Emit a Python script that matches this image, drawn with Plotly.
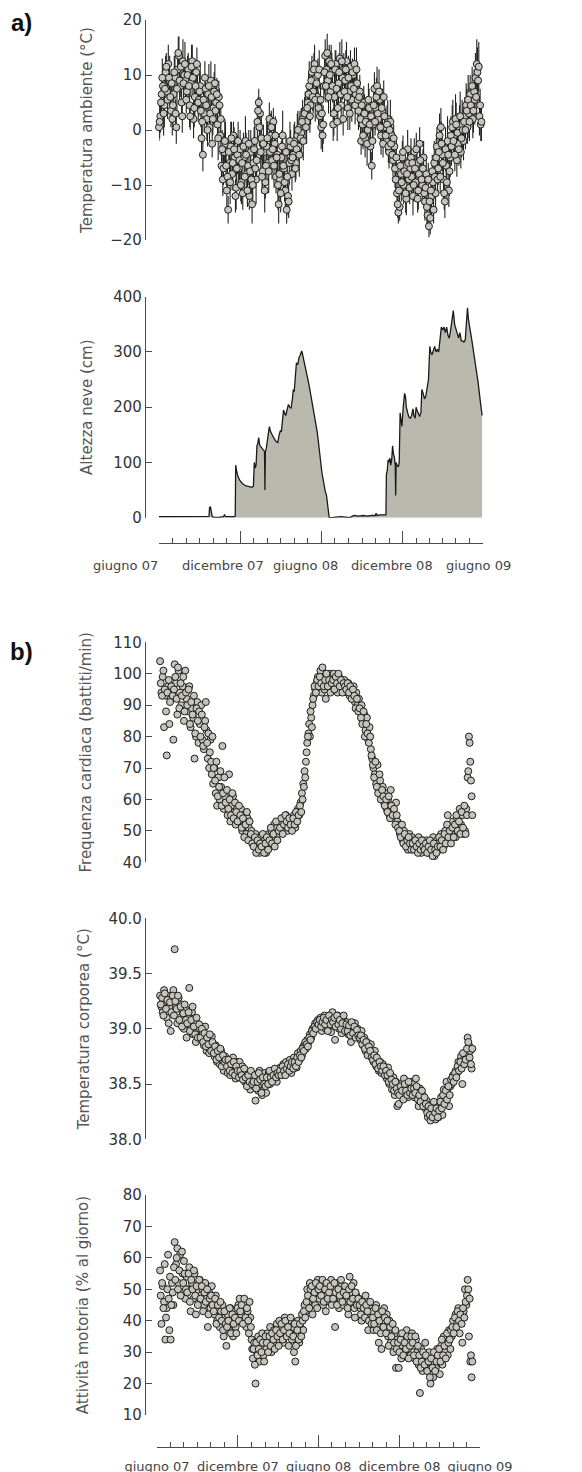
import numpy as np
import pandas as pd
import plotly.graph_objects as go

START = "2007-06-01"
END = "2009-06-01"

# ---------------- data ----------------
# a) air temperature (°C) with its daily spread; one reading every 3 days from 1 June 2007 ...
temp_c = [
    0.5, 2.5, 6.5, 8.0, 4.5, 10.5, 7.0, 12.0, 9.0, 3.5,
    2.0, 6.5, 9.5, 0.5, 11.0, 13.5, 8.0, 5.0, 12.5, 10.0,
    9.0, 7.0, 11.0, 4.5, 8.5, 12.5, 2.0, 6.0, 10.5, 7.5,
    5.5, 8.0, -1.5, -4.5, 3.0, 7.5, 2.0, 6.5, 0.5, 9.0,
    -2.5, 4.0, 8.5, 5.0, 1.0, 6.0, -1.0, -6.5, -9.0, -4.0,
    -2.5, -11.0, -14.5, -6.0, -3.0, -8.0, -1.0, -5.0, -10.5, -4.5,
    -7.0, -3.5, -9.5, -11.5, -5.0, -2.0, -8.0, -6.5, -12.0, -4.0,
    -13.5, -6.0, -2.0, -9.0, 1.5, 5.0, 3.0, -1.5, -7.5, -4.0,
    -9.5, -3.0, -6.0, 2.0, -1.0, -5.5, 1.5, -2.5, -8.5, -4.5,
    -13.5, -9.0, -5.0, -1.0, -7.0, -11.0, -14.5, -12.0, -6.0, -3.0,
    -8.0, -4.5, -2.0, -6.0, -1.0, -3.0, 0.5, -0.5, 2.0, 1.0,
    3.5, 1.5, 5.0, 8.0, 4.5, 10.5, 7.0, 12.0, 9.5, 6.0,
    4.0, 2.5, 0.5, -1.0, 8.0, 13.5, 11.0, 9.0, 12.5, 7.0,
    10.5, 1.0, 6.0, 12.0, 1.5, 8.5, 13.0, 4.5, 9.5, 11.0,
    9.0, 12.5, 4.0, 7.0, 11.5, 5.5, 10.0, 12.0, 6.5, 8.5,
    3.5, 7.0, -2.0, 1.0, 5.0, -1.5, 2.5, 0.0, 4.0, -3.0,
    -6.5, 1.0, 7.5, 4.0, 8.0, 2.0, 5.5, -1.0, 3.5, 6.0,
    0.5, -2.0, 2.0, -4.0, 1.5, -1.0, -5.5, -3.0, -9.0, -11.5,
    -15.0, -14.0, -8.0, -5.0, -10.0, -6.5, -12.5, -3.5, -9.0, -7.0,
    -8.5, -12.0, -4.0, -9.5, -6.0, -11.0, -2.5, -7.5, -10.0, -5.0,
    -13.0, -8.0, -15.5, -17.5, -16.0, -12.0, -9.5, -6.0, -11.5, -3.0,
    -7.0, -1.0, 0.5, -4.5, -9.0, -13.0, -6.5, -2.0, -11.0, -5.0,
    -3.0, 1.5, -1.0, 2.0, -5.5, -2.5, 0.5, -4.0, 1.0, -2.0,
    2.5, 4.5, 0.5, 3.0, 6.5, 5.0, 2.0, 7.0, 9.5, 12.0,
    9.0, 2.5, 1.0,
]
temp_err = [
    2.5, 3.0, 3.5, 2.0, 4.0, 3.0, 2.5, 3.5, 4.5, 3.0,
    3.0, 2.5, 4.0, 3.0, 3.5, 3.5, 2.0, 3.0, 4.0, 2.5,
    3.5, 2.5, 3.0, 4.0, 2.5, 3.0, 3.5, 4.5, 2.0, 3.0,
    3.0, 4.0, 2.5, 3.0, 3.5, 2.5, 4.0, 3.0, 2.5, 3.5,
    2.5, 3.0, 3.5, 4.0, 2.5, 3.0, 3.5, 2.0, 3.0, 3.5,
    4.0, 3.0, 2.5, 3.5, 4.5, 3.0, 2.5, 3.0, 4.0, 3.5,
    3.0, 3.5, 4.0, 3.0, 2.5, 4.5, 3.0, 3.5, 2.5, 4.0,
    3.5, 4.0, 3.0, 4.5, 3.5, 2.5, 3.0, 4.0, 3.5, 3.0,
    3.0, 4.5, 3.5, 3.0, 4.0, 3.5, 2.5, 4.0, 3.0, 3.5,
    3.5, 4.0, 3.0, 4.5, 3.5, 3.0, 2.5, 3.5, 4.0, 3.0,
    3.0, 2.5, 3.5, 3.0, 4.0, 2.5, 3.0, 4.5, 3.5, 3.0,
    3.5, 4.0, 3.0, 4.5, 3.5, 3.0, 4.0, 3.5, 2.5, 3.0,
    3.0, 3.5, 4.0, 3.0, 2.5, 3.0, 3.5, 4.0, 3.0, 4.5,
    3.5, 3.0, 4.5, 2.5, 3.5, 4.0, 3.0, 3.5, 4.0, 3.0,
    3.0, 3.5, 4.0, 3.5, 3.0, 4.0, 2.5, 3.0, 3.5, 3.0,
    3.5, 3.0, 2.5, 4.0, 3.0, 3.5, 3.0, 2.5, 3.5, 4.0,
    2.5, 3.5, 3.0, 4.0, 3.5, 3.0, 2.5, 3.5, 4.0, 3.0,
    3.0, 2.5, 3.5, 3.0, 4.0, 3.5, 3.0, 2.5, 3.0, 3.5,
    2.0, 2.5, 3.5, 3.0, 3.5, 2.5, 3.0, 3.5, 2.5, 3.0,
    3.0, 3.5, 2.5, 3.0, 4.0, 3.5, 3.0, 2.5, 3.5, 3.0,
    3.5, 3.0, 2.5, 2.0, 3.0, 3.5, 3.0, 4.0, 3.0, 3.5,
    3.0, 4.0, 3.5, 3.0, 4.5, 3.0, 3.5, 4.5, 3.0, 3.5,
    3.5, 4.0, 3.0, 4.5, 3.0, 3.5, 4.0, 3.0, 4.5, 3.5,
    3.5, 4.0, 3.0, 4.5, 3.5, 3.0, 3.5, 4.0, 4.5, 4.5,
    3.0, 3.5, 3.0,
]
# ... and the readings in between (every 3 days from 2-3 June 2007)
temp_c_mid = [
    1.5, 5.0, 9.5, 3.0, 7.5, 11.5, 5.5, 9.5, 6.0, 8.5,
    4.5, 10.5, 3.0, 7.5, 14.0, 9.0, 11.5, 2.5, 8.5, 12.0,
    5.5, 10.0, 8.0, 2.5, 11.5, 9.5, 4.0, 8.0, 12.0, 5.0,
    7.0, 3.5, 1.5, 5.5, 9.5, 4.5, 0.0, 8.0, 3.0, 6.0,
    2.0, 7.0, 3.5, 6.5, -1.5, 4.5, 2.0, -3.5, -7.0, -2.0,
    -6.5, -8.5, -4.0, -9.5, -1.5, -6.0, -3.5, -12.0, -7.0, -2.0,
    -5.5, -10.0, -6.0, -3.0, -8.5, -4.5, -11.0, -2.5, -7.5, -9.0,
    -10.0, -3.5, -7.0, -5.5, 3.5, 0.5, -4.0, -8.5, -2.5, -11.0,
    -6.5, -1.5, -7.5, -4.0, 0.5, -3.5, -6.5, -1.0, -5.0, -10.0,
    -8.0, -11.5, -3.0, -6.5, -9.5, -4.0, -8.5, -13.0, -2.0, -5.5,
    -5.0, -2.5, -7.0, -3.5, 0.0, -4.5, -1.5, 1.5, -2.0, 3.0,
    0.5, 4.0, 6.5, 2.5, 9.0, 6.0, 11.0, 5.5, 8.5, 10.0,
    11.0, 5.5, 3.0, 1.0, 10.5, 8.0, 14.0, 6.0, 10.0, 12.0,
    8.0, 3.0, 11.0, 7.5, 4.0, 10.5, 6.5, 12.5, 2.0, 7.0,
    11.0, 6.0, 9.5, 3.0, 8.0, 10.5, 7.5, 4.5, 11.0, 5.5,
    6.0, 2.0, 4.5, -1.0, 3.0, 1.5, -2.5, 5.5, 1.0, 2.5,
    -2.0, 4.5, 1.5, 6.0, 3.0, 7.0, 0.5, 4.0, -2.5, 2.5,
    -1.0, 1.0, -3.0, 0.0, -2.5, -4.5, -1.5, -7.0, -5.0, -13.5,
    -11.0, -6.5, -9.5, -4.0, -7.5, -11.5, -8.0, -6.0, -10.5, -5.0,
    -6.0, -10.0, -7.0, -3.5, -12.5, -8.0, -5.5, -9.0, -7.0, -11.5,
    -10.5, -14.0, -9.0, -13.0, -11.0, -7.5, -14.5, -8.5, -5.0, -9.0,
    -4.0, -8.5, -2.5, -6.0, -11.5, -3.5, -9.5, -4.5, -7.5, -1.0,
    0.5, -2.0, -4.5, 1.0, -0.5, -3.5, 2.5, -1.5, 0.0, 1.5,
    0.0, 3.5, 5.5, 1.5, 4.5, 8.0, 3.5, 5.5, 6.0, 10.5,
    11.5, 4.5, 1.5,
]
temp_err_mid = [
    3.0, 2.5, 3.5, 4.0, 3.0, 2.5, 3.5, 3.0, 4.0, 2.5,
    3.5, 3.0, 2.5, 4.0, 3.0, 3.5, 2.5, 3.0, 3.5, 4.0,
    2.5, 3.5, 3.0, 2.5, 4.0, 3.0, 3.5, 2.5, 3.0, 3.5,
    3.5, 3.0, 4.0, 2.5, 3.0, 3.5, 3.0, 4.0, 2.5, 3.0,
    3.0, 3.5, 2.5, 3.0, 4.0, 3.0, 2.5, 3.5, 3.0, 4.0,
    3.5, 2.5, 3.0, 4.0, 3.0, 3.5, 4.0, 3.0, 2.5, 3.5,
    4.0, 3.0, 3.5, 2.5, 3.5, 4.0, 3.0, 2.5, 3.5, 3.0,
    3.0, 4.0, 3.5, 3.0, 2.5, 3.5, 4.0, 3.0, 3.5, 4.0,
    3.5, 3.0, 4.0, 3.5, 3.0, 2.5, 4.0, 3.5, 3.0, 4.5,
    4.0, 3.5, 3.0, 4.0, 3.5, 3.0, 4.5, 3.0, 3.5, 3.0,
    3.0, 3.5, 2.5, 3.0, 3.5, 4.0, 3.0, 2.5, 3.5, 3.0,
    3.0, 3.5, 4.0, 3.0, 3.5, 2.5, 3.0, 4.0, 3.5, 3.0,
    3.5, 3.0, 2.5, 3.5, 4.0, 3.0, 3.5, 3.0, 4.0, 3.5,
    3.0, 4.0, 3.5, 3.0, 2.5, 3.5, 3.0, 4.0, 3.0, 3.5,
    3.5, 3.0, 4.0, 3.0, 3.5, 2.5, 3.0, 3.5, 4.0, 3.0,
    3.0, 3.5, 3.0, 2.5, 3.5, 3.0, 4.0, 3.0, 3.5, 2.5,
    3.5, 3.0, 2.5, 3.5, 3.0, 4.0, 3.0, 3.5, 2.5, 3.0,
    3.0, 3.5, 3.0, 2.5, 3.5, 3.0, 2.5, 3.5, 3.0, 2.5,
    3.0, 2.5, 3.5, 3.0, 2.5, 3.5, 3.0, 2.5, 3.0, 3.5,
    2.5, 3.0, 3.5, 3.0, 2.5, 3.0, 3.5, 3.0, 3.5, 2.5,
    3.0, 3.5, 3.0, 2.5, 3.5, 3.0, 2.5, 3.0, 3.5, 3.0,
    3.5, 3.0, 4.0, 3.5, 3.0, 4.0, 3.5, 3.0, 4.5, 3.5,
    4.0, 3.5, 3.0, 4.0, 3.5, 3.0, 4.5, 3.5, 4.0, 3.0,
    3.5, 4.0, 4.5, 3.5, 4.0, 3.5, 4.0, 4.5, 4.0, 4.5,
    4.5, 3.0, 3.5,
]

# a) snow depth: day since 1 June 2007 and depth (cm)
snow_day = [
    0, 20, 45, 70, 90, 110, 113, 114, 116, 118, 120, 125, 135, 145, 148, 150, 160, 170, 172,
    173, 175, 178, 182, 188, 195, 202, 210, 213, 215, 217, 219, 221, 223, 225, 227, 230, 233,
    236, 238, 239, 240, 242, 246, 249, 252, 256, 260, 264, 268, 271, 274, 276, 279, 281, 283,
    286, 289, 292, 295, 298, 301, 303, 305, 308, 310, 313, 316, 319, 322, 324, 327, 330, 333,
    336, 339, 342, 345, 348, 351, 354, 357, 360, 363, 365, 367, 369, 372, 375, 378, 381, 384,
    390, 400, 410, 420, 430, 440, 450, 460, 470, 480, 488, 490, 492, 500, 510, 512,
    513, 515, 517, 519, 521, 523, 525, 527, 529, 531, 533, 534, 535, 537, 540, 542, 544, 546,
    548, 551, 554, 556, 558, 561, 564, 567, 570, 573, 575, 578, 580, 582, 585, 588, 591, 593,
    596, 599, 602, 605, 608, 611, 613, 616, 619, 622, 625, 628, 631, 634, 637, 640, 643, 646,
    649, 652, 655, 658, 661, 664, 667, 670, 673, 676, 679, 682, 685, 688, 691, 694, 696, 698,
    700, 703, 706, 710, 715, 720, 725, 729,
]
snow_cm = [
    2, 2, 1.5, 2, 2.5, 2.5, 3, 18, 20, 10, 2, 0.5, 0.5, 2, 5, 2, 1.5, 2, 3,
    95, 85, 75, 68, 62, 58, 56, 55, 57, 100, 90, 95, 130, 135, 145, 132, 128, 125,
    122, 120, 50, 120, 125, 150, 165, 155, 148, 143, 138, 136, 150, 158, 155, 185, 195, 190,
    185, 195, 205, 200, 198, 215, 232, 228, 260, 280, 277, 290, 295, 302, 295, 285, 275, 262,
    250, 238, 225, 210, 195, 188, 170, 155, 135, 110, 100, 85, 75, 60, 48, 40, 20, 0,
    0, 1, 2, 1, 0, 4, 3, 4, 3, 4, 4, 8, 4, 5, 5, 5,
    78, 85, 105, 100, 108, 95, 105, 130, 115, 110, 95, 40, 100, 95, 92, 100, 190, 180,
    165, 200, 225, 220, 200, 190, 182, 180, 185, 197, 185, 180, 200, 195, 188, 183, 190, 232,
    225, 215, 220, 240, 250, 310, 300, 295, 305, 310, 300, 305, 300, 320, 345, 340, 345, 335,
    345, 330, 325, 340, 355, 375, 350, 340, 330, 325, 335, 320, 320, 318, 322, 360, 380, 360,
    345, 335, 320, 300, 275, 245, 210, 185,
]

# b) physiology: one value every 3 days from 8 June 2007 ...
heart_bpm = [
    104, 94, 99, 83, 93, 74, 96, 84, 92, 95,
    79, 103, 97, 87, 101, 94, 90, 96, 85, 101,
    92, 88, 96, 83, 89, 86, 73, 80, 91, 78,
    84, 90, 79, 76, 85, 82, 73, 70, 79, 68,
    65, 70, 62, 58, 67, 60, 64, 77, 57, 61,
    59, 55, 68, 53, 58, 61, 56, 52, 57, 54,
    53, 57, 50, 55, 52, 49, 54, 51, 48, 50,
    47, 45, 49, 44, 46, 43, 48, 44, 45, 47,
    43, 46, 49, 45, 50, 47, 52, 48, 51, 49,
    53, 50, 54, 51, 52, 55, 50, 53, 51, 54,
    52, 55, 51, 54, 57, 55, 59, 62, 65, 69,
    72, 78, 81, 80, 86, 90, 93, 95, 97, 99,
    96, 101, 94, 98, 95, 92, 99, 97, 100, 95,
    97, 100, 96, 98, 94, 99, 96, 97, 95, 98,
    96, 94, 97, 93, 95, 92, 96, 91, 94, 90,
    92, 88, 90, 85, 87, 82, 86, 79, 83, 76,
    73, 70, 68, 65, 71, 63, 66, 61, 64, 59,
    62, 57, 60, 55, 63, 58, 56, 54, 59, 53,
    52, 49, 51, 47, 50, 46, 48, 44, 49, 47,
    48, 45, 47, 44, 46, 48, 45, 43, 47, 46,
    44, 47, 45, 43, 46, 44, 48, 42, 45, 47,
    46, 44, 49, 47, 45, 50, 48, 55, 47, 51,
    49, 53, 51, 48, 54, 50, 57, 52, 55, 49,
    50, 57, 67, 80, 72, 61,
]
body_temp_c = [
    39.30, 39.20, 39.15, 39.35, 39.25, 39.10, 39.30, 39.20, 38.98, 39.28,
    39.35, 39.72, 39.20, 39.05, 39.28, 39.10, 39.22, 39.15, 39.00, 39.18,
    38.92, 39.10, 39.37, 39.00, 39.15, 38.95, 39.05, 38.88, 39.00, 38.95,
    39.00, 38.90, 38.95, 38.85, 39.02, 38.80, 38.90, 38.78, 38.85, 38.93,
    38.82, 38.75, 38.85, 38.70, 38.78, 38.68, 38.80, 38.72, 38.62, 38.75,
    38.70, 38.60, 38.72, 38.58, 38.66, 38.74, 38.62, 38.55, 38.70, 38.64,
    38.70, 38.62, 38.66, 38.58, 38.52, 38.60, 38.50, 38.56, 38.45, 38.60,
    38.55, 38.48, 38.35, 38.58, 38.44, 38.62, 38.50, 38.40, 38.55, 38.60,
    38.42, 38.55, 38.60, 38.50, 38.58, 38.62, 38.54, 38.60, 38.52, 38.64,
    38.58, 38.65, 38.60, 38.68, 38.62, 38.70, 38.64, 38.66, 38.72, 38.60,
    38.68, 38.74, 38.70, 38.65, 38.78, 38.72, 38.80, 38.76, 38.84, 38.86,
    38.82, 38.90, 38.88, 38.95, 38.92, 39.00, 38.98, 39.05, 39.02, 39.08,
    39.05, 39.10, 38.98, 39.04, 39.12, 39.00, 39.06, 39.02, 39.10, 38.97,
    39.15, 39.04, 38.90, 39.08, 39.12, 39.00, 39.06, 38.96, 39.10, 39.02,
    39.00, 39.06, 38.95, 39.02, 38.88, 39.04, 38.98, 39.05, 38.94, 39.00,
    38.96, 38.90, 38.98, 38.85, 38.92, 38.80, 38.88, 38.84, 38.78, 38.86,
    38.75, 38.70, 38.80, 38.66, 38.72, 38.62, 38.70, 38.60, 38.68, 38.64,
    38.60, 38.55, 38.65, 38.50, 38.58, 38.45, 38.56, 38.40, 38.52, 38.30,
    38.32, 38.45, 38.50, 38.42, 38.55, 38.40, 38.48, 38.38, 38.46, 38.52,
    38.44, 38.50, 38.38, 38.55, 38.42, 38.30, 38.46, 38.36, 38.40, 38.32,
    38.28, 38.35, 38.20, 38.30, 38.17, 38.26, 38.22, 38.32, 38.18, 38.25,
    38.20, 38.30, 38.38, 38.22, 38.45, 38.35, 38.52, 38.42, 38.30, 38.48,
    38.50, 38.58, 38.55, 38.62, 38.60, 38.70, 38.65, 38.75, 38.50, 38.72,
    38.68, 38.78, 38.92, 38.85, 38.80, 38.64,
]
activity_pct = [
    56, 39, 51, 46, 34, 44, 61, 37, 34, 52,
    45, 65, 58, 63, 52, 61, 49, 55, 59, 47,
    54, 50, 57, 43, 52, 47, 55, 42, 51, 49,
    53, 48, 50, 45, 52, 47, 38, 49, 44, 51,
    46, 42, 48, 40, 44, 38, 43, 45, 35, 41,
    32, 42, 37, 44, 40, 35, 43, 38, 41, 45,
    47, 42, 44, 40, 46, 38, 43, 36, 41, 34,
    28, 33, 20, 30, 35, 27, 32, 36, 29, 34,
    31, 36, 33, 38, 30, 35, 37, 32, 39, 34,
    40, 35, 38, 33, 41, 36, 39, 32, 37, 40,
    38, 30, 27, 36, 40, 33, 38, 42, 37, 45,
    43, 50, 46, 52, 48, 42, 51, 45, 49, 53,
    47, 52, 49, 45, 51, 43, 48, 50, 46, 53,
    50, 46, 38, 49, 52, 44, 47, 51, 45, 48,
    50, 47, 42, 54, 49, 45, 52, 41, 48, 46,
    47, 44, 40, 46, 43, 48, 45, 37, 44, 42,
    43, 37, 41, 45, 39, 33, 42, 31, 40, 44,
    38, 42, 35, 40, 33, 37, 30, 36, 25, 34,
    25, 32, 28, 35, 30, 33, 37, 31, 34, 29,
    36, 32, 28, 34, 30, 26, 17, 31, 24, 28,
    33, 27, 24, 30, 20, 26, 22, 29, 25, 31,
    28, 23, 32, 26, 35, 30, 33, 29, 37, 31,
    35, 40, 37, 42, 39, 44, 36, 41, 33, 43,
    50, 45, 53, 35, 27, 22,
]
# ... and the readings in between (every 3 days from 9-10 June 2007)
heart_bpm_mid = [
    97, 93, 101, 95, 88, 94, 98, 91, 96, 93,
    95, 99, 92, 102, 89, 97, 93, 99, 88, 94,
    90, 95, 84, 91, 87, 93, 81, 89, 85, 88,
    80, 87, 77, 83, 91, 78, 81, 75, 72, 80,
    70, 66, 72, 61, 64, 69, 58, 62, 67, 59,
    63, 57, 60, 55, 62, 54, 59, 56, 53, 58,
    55, 51, 54, 48, 52, 56, 47, 53, 49, 46,
    45, 48, 43, 47, 44, 46, 45, 49, 43, 46,
    48, 44, 47, 51, 46, 49, 45, 53, 47, 50,
    51, 54, 49, 52, 55, 53, 51, 54, 52, 50,
    54, 52, 56, 53, 55, 58, 56, 60, 64, 67,
    75, 80, 84, 88, 83, 92, 96, 94, 98, 96,
    99, 97, 102, 96, 98, 100, 96, 98, 94, 97,
    98, 95, 99, 97, 100, 96, 98, 94, 97, 96,
    95, 97, 94, 96, 92, 95, 93, 89, 92, 88,
    89, 86, 84, 88, 80, 84, 81, 78, 80, 74,
    71, 67, 72, 64, 62, 68, 60, 63, 61, 58,
    60, 56, 61, 54, 58, 55, 57, 52, 55, 51,
    50, 48, 52, 46, 49, 45, 47, 48, 46, 44,
    46, 44, 47, 45, 43, 46, 44, 47, 45, 44,
    46, 43, 45, 47, 44, 42, 46, 44, 43, 45,
    48, 45, 47, 44, 49, 46, 52, 48, 50, 46,
    51, 48, 52, 55, 50, 53, 49, 56, 51, 58,
    49, 55, 69, 78, 66, 55,
]
body_temp_c_mid = [
    39.22, 39.28, 39.12, 39.32, 39.18, 39.26, 39.05, 39.24, 39.15, 39.30,
    39.12, 39.25, 39.18, 39.30, 39.08, 39.20, 39.02, 39.14, 39.22, 39.08,
    39.05, 39.15, 38.98, 39.08, 39.20, 39.02, 38.95, 39.10, 38.92, 39.04,
    38.92, 39.00, 38.88, 38.96, 38.84, 38.92, 38.86, 38.95, 38.80, 38.88,
    38.78, 38.84, 38.72, 38.80, 38.74, 38.82, 38.66, 38.76, 38.70, 38.72,
    38.66, 38.72, 38.62, 38.68, 38.60, 38.70, 38.58, 38.66, 38.62, 38.56,
    38.62, 38.58, 38.54, 38.64, 38.56, 38.48, 38.58, 38.52, 38.62, 38.50,
    38.52, 38.58, 38.46, 38.52, 38.60, 38.54, 38.42, 38.56, 38.50, 38.48,
    38.56, 38.50, 38.62, 38.56, 38.52, 38.58, 38.64, 38.56, 38.60, 38.58,
    38.62, 38.58, 38.66, 38.62, 38.58, 38.64, 38.68, 38.62, 38.66, 38.70,
    38.64, 38.70, 38.66, 38.74, 38.70, 38.76, 38.74, 38.82, 38.80, 38.88,
    38.86, 38.84, 38.92, 38.90, 38.98, 38.96, 39.02, 39.00, 39.06, 39.04,
    39.08, 39.02, 39.06, 39.10, 39.04, 39.08, 38.98, 39.12, 39.04, 39.08,
    39.06, 39.10, 39.02, 39.12, 39.04, 39.08, 39.00, 39.05, 39.12, 38.98,
    39.04, 38.98, 39.03, 38.94, 39.06, 38.96, 39.02, 38.92, 38.99, 38.94,
    38.92, 38.94, 38.86, 38.90, 38.82, 38.88, 38.76, 38.84, 38.80, 38.74,
    38.72, 38.76, 38.68, 38.74, 38.64, 38.70, 38.66, 38.62, 38.66, 38.58,
    38.62, 38.58, 38.52, 38.60, 38.54, 38.50, 38.44, 38.52, 38.46, 38.42,
    38.40, 38.48, 38.44, 38.36, 38.50, 38.44, 38.40, 38.52, 38.42, 38.46,
    38.40, 38.46, 38.42, 38.48, 38.36, 38.40, 38.34, 38.44, 38.30, 38.38,
    38.32, 38.24, 38.30, 38.22, 38.28, 38.20, 38.34, 38.24, 38.28, 38.20,
    38.26, 38.34, 38.28, 38.40, 38.32, 38.44, 38.36, 38.48, 38.40, 38.54,
    38.56, 38.52, 38.60, 38.56, 38.66, 38.62, 38.70, 38.64, 38.78, 38.68,
    38.72, 38.82, 38.88, 38.74, 38.68, 38.82,
]
activity_pct_mid = [
    48, 52, 44, 58, 41, 50, 47, 54, 45, 49,
    57, 53, 60, 50, 56, 48, 62, 52, 55, 50,
    49, 55, 46, 53, 50, 56, 48, 51, 45, 53,
    47, 51, 43, 49, 46, 50, 42, 47, 48, 45,
    43, 47, 39, 45, 41, 46, 40, 37, 43, 39,
    38, 40, 44, 36, 42, 39, 41, 36, 44, 40,
    43, 45, 39, 47, 41, 44, 40, 46, 38, 31,
    31, 26, 33, 29, 31, 34, 30, 33, 27, 35,
    33, 30, 35, 32, 36, 34, 31, 37, 35, 32,
    36, 39, 34, 37, 40, 35, 38, 36, 41, 34,
    35, 39, 32, 37, 34, 39, 35, 40, 43, 41,
    46, 48, 44, 50, 51, 47, 49, 52, 44, 50,
    51, 48, 53, 46, 50, 52, 47, 49, 51, 45,
    47, 52, 49, 45, 50, 48, 53, 46, 49, 51,
    48, 44, 50, 46, 51, 47, 44, 49, 45, 47,
    45, 42, 46, 44, 41, 45, 43, 40, 46, 39,
    41, 39, 44, 37, 42, 40, 36, 43, 38, 41,
    36, 40, 32, 38, 35, 39, 33, 37, 31, 33,
    30, 34, 36, 29, 33, 31, 35, 28, 32, 35,
    33, 29, 35, 27, 32, 29, 25, 27, 30, 26,
    29, 24, 27, 22, 28, 25, 30, 24, 27, 29,
    31, 27, 34, 29, 32, 28, 36, 33, 34, 37,
    38, 36, 41, 38, 43, 40, 42, 39, 44, 41,
    46, 48, 50, 47, 29, 27,
]

tick_dates = ["2007-06-01", "2007-12-01", "2008-06-01", "2008-12-01", "2009-06-01"]
tick_labels = ["giugno 07", "dicembre 07", "giugno 08", "dicembre 08", "giugno 09"]

# ---------------- x positions ----------------
t0 = pd.Timestamp(START)


def every3(first_day, n):
    return list(t0 + pd.to_timedelta(first_day + np.arange(n) * 3, unit="D"))


temp_x = every3(0, len(temp_c)) + every3(1.5, len(temp_c_mid))
temp_y = temp_c + temp_c_mid
temp_e = temp_err + temp_err_mid
snow_dates = t0 + pd.to_timedelta(snow_day, unit="D")
hr_x = every3(7, len(heart_bpm)) + every3(8.5, len(heart_bpm_mid))
bt_x = every3(7, len(body_temp_c)) + every3(8.5, len(body_temp_c_mid))
ac_x = every3(7, len(activity_pct)) + every3(8.5, len(activity_pct_mid))

# ---------------- styling / layout helpers ----------------
W, H = 582, 1472
OFF = 8  # body margin of the html page
FONT = "DejaVu Sans"
AXC = "#4a4a4a"


def fx(p):
    return (p - OFF) / W


def fy(p):
    return 1 - (p - OFF) / H


marker = dict(size=7, color="#c5c5bd", line=dict(color="#1c1c1c", width=1))

fig = go.Figure()
fig.add_trace(go.Scatter(
    x=temp_x, y=temp_y, mode="markers", xaxis="x", yaxis="y",
    marker=marker, cliponaxis=False,
    error_y=dict(type="data", array=temp_e, symmetric=True, color="#222222",
                 thickness=1.1, width=0),
))
fig.add_trace(go.Scatter(
    x=snow_dates, y=snow_cm, mode="lines", xaxis="x", yaxis="y2",
    line=dict(color="#1a1a1a", width=1.3), fill="tozeroy", fillcolor="#b9b9ae",
))
fig.add_trace(go.Scatter(x=hr_x, y=heart_bpm + heart_bpm_mid, mode="markers",
                         xaxis="x2", yaxis="y3", marker=marker, cliponaxis=False))
fig.add_trace(go.Scatter(x=bt_x, y=body_temp_c + body_temp_c_mid, mode="markers",
                         xaxis="x2", yaxis="y4", marker=marker, cliponaxis=False))
fig.add_trace(go.Scatter(x=ac_x, y=activity_pct + activity_pct_mid, mode="markers",
                         xaxis="x2", yaxis="y5", marker=marker, cliponaxis=False))


def yax(top, bottom, rng, dtick, title, standoff, fmt=None):
    d = dict(
        domain=[fy(bottom), fy(top)], range=rng, dtick=dtick, tick0=rng[0],
        anchor="free", position=fx(145), showline=True, linecolor=AXC, linewidth=1.3,
        ticks="inside", ticklen=6, tickwidth=1.3, tickcolor=AXC,
        showgrid=False, zeroline=False, fixedrange=True, automargin=False,
        tickfont=dict(family=FONT, size=15, color="#333333"),
        title=dict(text=title, font=dict(family=FONT, size=15, color="#555555"),
                   standoff=standoff),
    )
    if fmt:
        d["tickformat"] = fmt
    return d


def xax(left, right, ypos, labels):
    d = dict(
        domain=[fx(left), fx(right)], range=[START, END], anchor="free", position=fy(ypos),
        showline=True, linecolor=AXC, linewidth=1.3, showgrid=False, zeroline=False,
        ticks="inside", ticklen=12, tickwidth=1.3, tickcolor=AXC,
        tickmode="array", tickvals=tick_dates, automargin=False,
        minor=dict(ticks="inside", ticklen=5, tickwidth=1.3, tickcolor=AXC,
                   dtick="M1", tick0=START, showgrid=False),
        fixedrange=True,
    )
    if labels:
        d.update(ticktext=tick_labels, showticklabels=True, ticklabelstandoff=8, tickangle=0,
                 tickfont=dict(family=FONT, size=13, color="#444444"))
    else:
        d.update(showticklabels=False)
    return d


fig.update_layout(
    width=W, height=H, margin=dict(l=0, r=0, t=0, b=0, pad=0, autoexpand=False),
    paper_bgcolor="white", plot_bgcolor="rgba(0,0,0,0)", showlegend=False,
    font=dict(family=FONT),
    xaxis=xax(159, 483, 543, False),
    xaxis2=xax(157, 480, 1446.7, True),
    yaxis=yax(20, 240, [-20, 20], 10, "Temperatura ambiente (°C)", 12),
    yaxis2=yax(296.7, 517.7, [0, 400], 100, "Altezza neve (cm)", 15),
    yaxis3=yax(642.3, 862.3, [40, 110], 10, "Frequenza cardiaca (battiti/min)", 16),
    yaxis4=yax(918.3, 1139.3, [38, 40], 0.5, "Temperatura corporea (°C)", 14, ".1f"),
    yaxis5=yax(1195, 1415, [10, 80], 10, "Attività motoria (% al giorno)", 29),
)

# date labels of panel a sit left of their tick marks in the original
label_shift_a = [-34, -17, -16, -10, -5]
for d, lab, sh in zip(tick_dates, tick_labels, label_shift_a):
    fig.add_annotation(x=d, xref="x", y=fy(565), yref="paper", text=lab, showarrow=False,
                       xshift=sh, xanchor="center", yanchor="middle",
                       font=dict(family=FONT, size=13, color="#444444"))

for txt, yy in [("a)", 23), ("b)", 651)]:
    fig.add_annotation(x=fx(21), xref="paper", y=fy(yy), yref="paper", text=f"<b>{txt}</b>",
                       showarrow=False, xanchor="center", yanchor="middle",
                       font=dict(family="Liberation Sans", size=24, color="#111111"))

fig.write_html("out.html")
